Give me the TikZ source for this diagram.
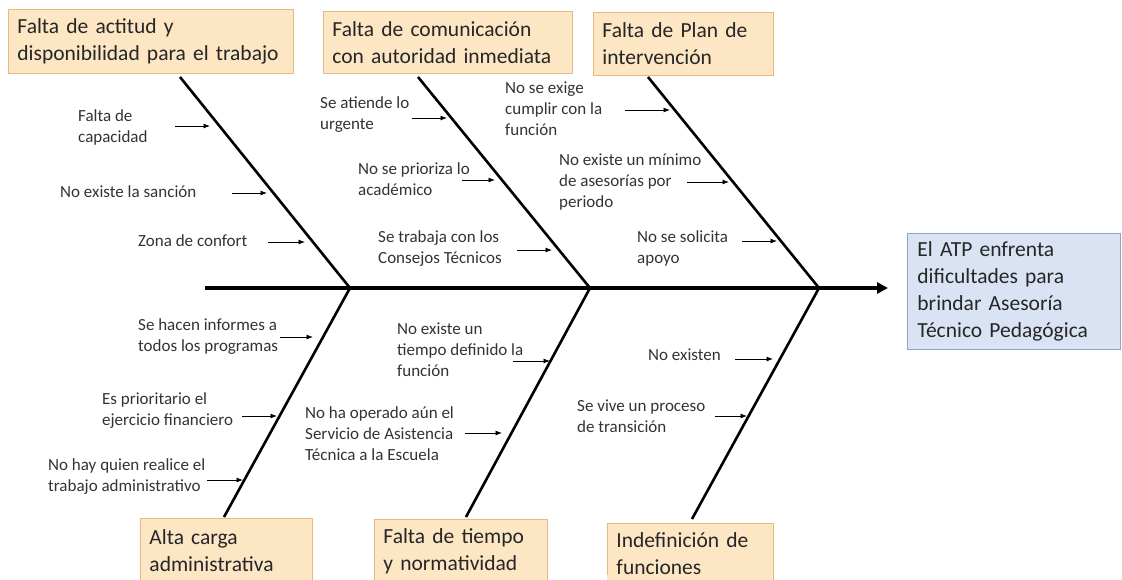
\documentclass[tikz,border=0pt]{standalone}
\usepackage{fontspec}
\setmainfont{Carlito}
\usetikzlibrary{arrows.meta}
\definecolor{causefill}{HTML}{FCE6C4}
\definecolor{causedraw}{HTML}{E5B97F}
\definecolor{effectfill}{HTML}{DAE3F3}
\definecolor{effectdraw}{HTML}{8FA3C6}
\definecolor{txt}{HTML}{262626}
\definecolor{lbltxt}{HTML}{333333}
\tikzset{
  cause/.style={draw=causedraw, fill=causefill, line width=0.9pt, anchor=north west,
    align=left, inner xsep=9pt, text=txt, font=\fontsize{21.5}{27}\selectfont},
  effect/.style={draw=effectdraw, fill=effectfill, line width=0.9pt, anchor=north west,
    align=left, inner xsep=10pt, text=txt, font=\fontsize{21.5}{27}\selectfont},
  lbl/.style={anchor=west, align=left, inner sep=0pt, text=lbltxt, font=\fontsize{17}{21}\selectfont},
  sub/.style={line width=0.8pt, -{Latex[length=6.5pt,width=5pt]}},
  bone/.style={line width=2.6pt},
  spine/.style={line width=3.6pt, -{Triangle[length=11pt,width=11pt]}}
}
\begin{document}
\begin{tikzpicture}[x=1pt,y=-1pt]
\clip (0,0) rectangle (1122,579);
\fill[white] (0,0) rectangle (1122,579);

% cause boxes
\node[cause, text width=267pt, minimum height=64pt] (c1) at (8,9) {\mbox{Falta de actitud y}\\\mbox{disponibilidad para el trabajo}};
\node[cause, text width=231pt, minimum height=62pt] (c2) at (323,11) {\mbox{Falta de comunicación}\\\mbox{con autoridad inmediata}};
\node[cause, text width=162pt, minimum height=63pt] (c3) at (593,12) {\mbox{Falta de Plan de}\\\mbox{intervención}};
\node[cause, text width=154pt, minimum height=64pt] (c4) at (140,518) {Alta carga\\administrativa};
\node[cause, text width=155pt, minimum height=63pt] (c5) at (374,519) {Falta de tiempo\\y normatividad};
\node[cause, text width=148pt, minimum height=60pt] (c6) at (607,523) {Indefinición de\\funciones};
\fill[causefill] (607.45,575) rectangle (772.5,580);

% effect box
\node[effect, text width=193pt, minimum height=116pt] (ef) at (907,233) {El ATP enfrenta\\dificultades para\\brindar Asesoría\\Técnico Pedagógica};

% spine
\coordinate (s0) at (205,288);
\coordinate (s1) at (888,288);
\coordinate (j1) at (350,288);
\coordinate (j2) at (590,288);
\coordinate (j3) at (819,288);
\draw[spine] (s0) -- (s1);

% bone ends
\coordinate (b1) at (180,77);
\coordinate (b2) at (418,77);
\coordinate (b3) at (648,77);
\coordinate (b4) at (224,517);
\coordinate (b5) at (466,517);
\coordinate (b6) at (692,519);
\draw[bone] (b1) -- (j1);
\draw[bone] (b2) -- (j2);
\draw[bone] (b3) -- (j3);
\draw[bone] (j1) -- (b4);
\draw[bone] (j2) -- (b5);
\draw[bone] (j3) -- (b6);

% labels
\node[lbl] (l1a) at (78,127) {Falta de\\capacidad};
\node[lbl] (l1b) at (60,192) {No existe la sanción};
\node[lbl] (l1c) at (138,241) {Zona de confort};
\node[lbl] (l2a) at (320,115) {Se atiende lo\\urgente};
\node[lbl] (l2b) at (358,179) {No se prioriza lo\\académico};
\node[lbl] (l2c) at (378,249) {Se trabaja con los\\Consejos Técnicos};
\node[lbl] (l3a) at (505,109) {No se exige\\cumplir con la\\función};
\node[lbl] (l3b) at (559,182) {No existe un mínimo\\de asesorías por\\periodo};
\node[lbl] (l3c) at (637,248) {No se solicita\\apoyo};
\node[lbl] (l4a) at (138,337) {Se hacen informes a\\todos los programas};
\node[lbl] (l4b) at (102,411) {Es prioritario el\\ejercicio financiero};
\node[lbl] (l4c) at (48,477) {No hay quien realice el\\trabajo administrativo};
\node[lbl] (l5a) at (397,350) {No existe un\\tiempo definido la\\función};
\node[lbl] (l5b) at (305,434) {No ha operado aún el\\Servicio de Asistencia\\Técnica a la Escuela};
\node[lbl] (l6a) at (648,355) {No existen};
\node[lbl] (l6b) at (577,416) {Se vive un proceso\\de transición};

% small arrows: start / tip coordinates
\foreach \n/\xa/\xb/\y in {a1a/175/210/126, a1b/232/267/193, a1c/268/305/242,
  a2a/412/447/118, a2b/462/495/180, a2c/517/552/250,
  a3a/625/670/110, a3b/687/729/182, a3c/742/777/241,
  a4a/280/313/337, a4b/242/277/416, a4c/207/243/480,
  a5a/513/550/361, a5b/465/502/433,
  a6a/735/773/359, a6b/715/747/416}{
  \coordinate (\n s) at (\xa,\y);
  \coordinate (\n t) at (\xb,\y);
  \draw[sub] (\n s) -- (\n t);
}
\end{tikzpicture}
\end{document}
